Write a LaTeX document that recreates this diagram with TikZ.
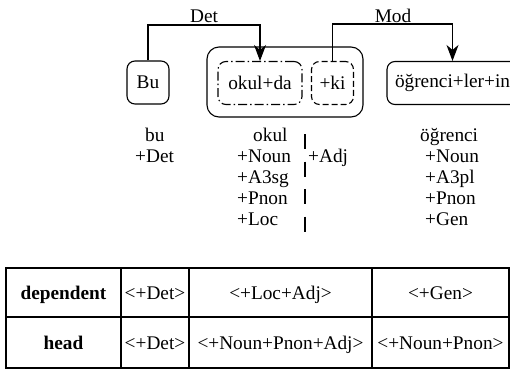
\documentclass[tikz,border=0pt]{standalone}
\usepackage{fontspec}
\setmainfont{Liberation Serif}
\usetikzlibrary{arrows.meta,calc}
\begin{document}
\begin{tikzpicture}[x=1pt,y=-1pt,
  font=\fontsize{19.3}{22}\selectfont,
  wbox/.style={draw,line width=1.1pt,rounded corners=8pt,inner sep=0pt,minimum height=43pt},
  ddbox/.style={wbox,dash pattern=on 9pt off 3pt on 1.5pt off 3pt},
  dbox/.style={wbox,dash pattern=on 6pt off 3pt},
  outbox/.style={draw,line width=1.1pt,rounded corners=12pt,inner sep=0pt},
  conn/.style={line width=1.1pt,-{Stealth[length=16pt,width=12pt,inset=5pt]}},
  lbl/.style={inner sep=0pt,anchor=base west},
  clbl/.style={inner sep=0pt,anchor=base},
  sep/.style={line width=1.1pt,dash pattern=on 15pt off 12.5pt},
  tab/.style={line width=1.2pt}
]
\useasboundingbox (0,0) rectangle (510,370);

% top row boxes
\node[wbox,minimum width=42pt] (bu) at (148,82.5) {Bu};
\node[outbox,minimum width=156pt,minimum height=70pt] (outer) at (285,82) {};
\node[ddbox,minimum width=84pt] (okulda) at (260,83) {okul+da};
\node[dbox,minimum width=42pt] (ki) at (332.5,83) {+ki};
\begin{scope}
  \clip (0,0) rectangle (510,370);
  \node[wbox,minimum width=131pt] (ogr) at (452.5,83) {öğrenci+ler+in};
\end{scope}

% connectors
\coordinate (dettop) at (0,25);
\coordinate (modtop) at (0,24);
\draw[conn] (bu.north) |- (dettop -| okulda.north) -- (okulda.north);
\draw[conn] (ki.north) |- (modtop -| ogr.north) -- (ogr.north);
\node[clbl] (det) at (204,22) {Det};
\node[clbl] (mod) at (393,22) {Mod};

% analyses
\node[lbl] (a1) at (145,141) {bu};
\node[lbl] (a2) at (135,162) {+Det};

\node[lbl] (b1) at (253,141) {okul};
\node[lbl] (b2) at (237,162) {+Noun};
\node[lbl] (b3) at (237,183) {+A3sg};
\node[lbl] (b4) at (237,204) {+Pnon};
\node[lbl] (b5) at (237,225) {+Loc};

\node[lbl] (c1) at (308,162) {+Adj};

\node[lbl] (d1) at (420,141) {öğrenci};
\node[lbl] (d2) at (425,162) {+Noun};
\node[lbl] (d3) at (425,183) {+A3pl};
\node[lbl] (d4) at (425,204) {+Pnon};
\node[lbl] (d5) at (425,225) {+Gen};

\coordinate (septop) at (305,134);
\coordinate (sepbot) at (305,243);
\draw[sep] (septop) -- (sepbot);

% table
\draw[tab] (6,268) rectangle (509,368);
\draw[tab] (6,317) -- (509,317);
\draw[tab] (121,268) -- (121,368);
\draw[tab] (189,268) -- (189,368);
\draw[tab] (372,268) -- (372,368);

\node[clbl] (t11) at (63.5,299) {\textbf{dependent}};
\node[clbl] (t12) at (155,299) {<+Det>};
\node[clbl] (t13) at (280.5,299) {<+Loc+Adj>};
\node[clbl] (t14) at (440.5,299) {<+Gen>};
\node[clbl] (t21) at (63.5,349) {\textbf{head}};
\node[clbl] (t22) at (155,349) {<+Det>};
\node[clbl] (t23) at (280.5,349) {<+Noun+Pnon+Adj>};
\node[clbl] (t24) at (440.5,349) {<+Noun+Pnon>};
\end{tikzpicture}
\end{document}
